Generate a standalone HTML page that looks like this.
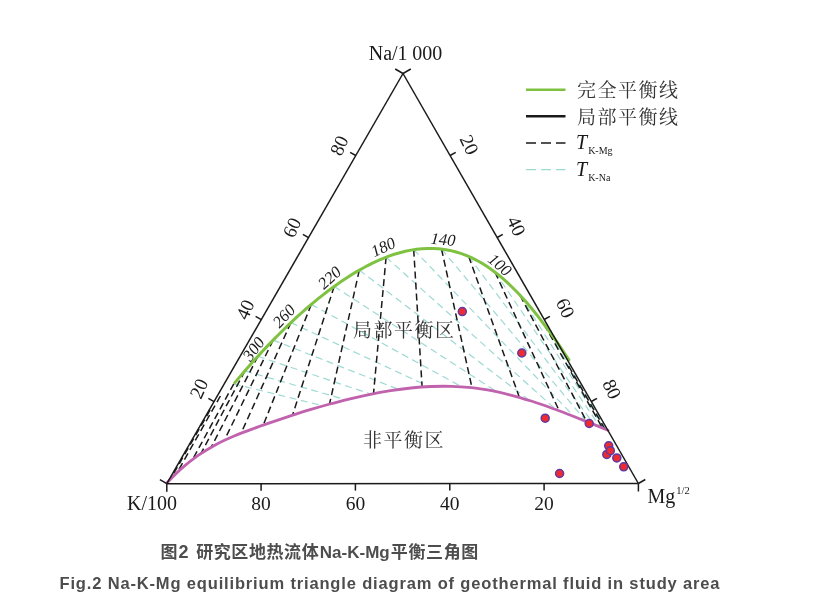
<!DOCTYPE html>
<html lang="zh"><head><meta charset="utf-8"><title>Na-K-Mg</title>
<style>html,body{margin:0;padding:0;background:#fff}svg{display:block;filter:blur(0.35px)}</style></head>
<body>
<svg width="813" height="616" viewBox="0 0 813 616">
<rect width="813" height="616" fill="#fff"/>
<g fill="none" stroke="#9dd9d3" stroke-width="1.2" stroke-dasharray="7 4.5">
<path d="M544.1 324.3 L606.5 429.6"/>
<path d="M520.1 295.4 L603.9 428.6"/>
<path d="M495.0 272.2 L600.1 427.0"/>
<path d="M468.7 256.5 L594.5 424.8"/>
<path d="M441.5 249.0 L586.3 421.5"/>
<path d="M413.7 249.6 L574.1 416.6"/>
<path d="M386.1 257.2 L556.1 409.7"/>
<path d="M359.3 270.1 L530.0 400.7"/>
<path d="M334.2 286.4 L496.8 391.8"/>
<path d="M311.3 304.4 L461.9 386.9"/>
<path d="M290.9 322.6 L429.1 386.6"/>
<path d="M273.1 340.1 L398.9 389.5"/>
<path d="M257.9 356.3 L371.2 394.2"/>
<path d="M244.9 370.9 L346.0 399.8"/>
<path d="M233.8 383.8 L323.3 405.9"/>
</g>
<g fill="none" stroke="#1a1a1a" stroke-width="1.5" stroke-dasharray="7 4">
<path d="M544.1 324.3 L602.4 428.0"/>
<path d="M520.1 295.4 L586.8 421.7"/>
<path d="M495.0 272.2 L559.2 410.8"/>
<path d="M468.7 256.5 L519.4 397.4"/>
<path d="M441.5 249.0 L472.0 387.8"/>
<path d="M413.7 249.6 L422.1 387.0"/>
<path d="M386.1 257.2 L373.5 393.7"/>
<path d="M359.3 270.1 L329.5 404.2"/>
<path d="M334.2 286.4 L292.5 415.2"/>
<path d="M311.3 304.4 L263.3 425.1"/>
<path d="M290.9 322.6 L241.1 433.2"/>
<path d="M273.1 340.1 L224.3 440.4"/>
<path d="M257.9 356.3 L211.2 447.2"/>
<path d="M244.9 370.9 L200.9 453.6"/>
<path d="M233.8 383.8 L192.6 459.5"/>
<path d="M568.6 366.0 L604.6 428.6"/>
<path d="M220.4 396.0 L177.1 472.6"/>
<path d="M210.1 410.0 L170.5 479.0"/>
</g>
<path d="M234.9 382.6L237.0 380.1L239.1 377.6L241.4 374.9L243.7 372.3L246.1 369.5L248.5 366.7L251.1 363.8L253.7 360.8L256.5 357.8L259.3 354.7L262.2 351.6L265.2 348.4L268.3 345.1L271.5 341.8L274.8 338.4L278.2 335.0L281.7 331.5L285.3 328.0L289.0 324.4L292.8 320.8L296.7 317.2L300.8 313.5L304.9 309.9L309.1 306.2L313.4 302.6L317.9 298.9L322.4 295.3L327.0 291.7L331.8 288.2L336.6 284.7L341.5 281.3L346.5 278.0L351.5 274.7L356.7 271.6L361.9 268.7L367.2 265.8L372.5 263.1L377.9 260.6L383.3 258.3L388.8 256.2L394.3 254.3L399.8 252.7L405.4 251.3L411.0 250.1L416.5 249.2L422.1 248.7L427.7 248.4L433.2 248.4L438.8 248.7L444.3 249.4L449.8 250.4L455.2 251.7L460.7 253.4L466.1 255.3L471.4 257.7L476.7 260.3L482.0 263.3L487.2 266.6L492.4 270.2L497.6 274.2L502.7 278.4L507.7 282.9L512.7 287.7L517.7 292.8L522.6 298.0L527.5 303.6L532.3 309.3L537.1 315.2L541.8 321.3L546.4 327.5L551.1 333.8L555.6 340.2L560.1 346.7L564.5 353.3L568.9 359.9" fill="none" stroke="#7fc241" stroke-width="3" stroke-linecap="round"/>
<path d="M166.9 482.8C169.4 480.3 176.9 472.5 182.2 467.9C187.5 463.3 193.0 459.1 198.5 455.2C204.1 451.3 209.9 447.9 215.7 444.7C221.5 441.6 227.5 438.9 233.6 436.3C239.7 433.7 245.8 431.4 252.1 429.1C258.3 426.8 264.7 424.6 271.1 422.4C277.5 420.2 283.9 418.0 290.4 415.9C296.9 413.8 303.5 411.7 310.1 409.7C316.7 407.7 323.4 405.8 330.0 404.0C336.7 402.2 343.4 400.5 350.1 398.8C356.9 397.2 363.6 395.7 370.3 394.4C377.1 393.0 383.8 391.8 390.6 390.7C397.4 389.6 404.1 388.7 410.9 388.0C417.6 387.3 424.4 386.8 431.1 386.5C437.9 386.2 444.6 386.2 451.4 386.3C458.1 386.5 464.8 387.0 471.5 387.7C478.2 388.4 484.9 389.5 491.6 390.7C498.2 392.0 504.9 393.5 511.5 395.3C518.1 397.0 524.7 399.0 531.2 401.0C537.8 403.1 544.3 405.4 550.8 407.7C557.2 410.1 563.7 412.5 570.1 415.0C576.5 417.5 582.8 420.1 589.1 422.6C595.4 425.1 604.8 428.9 607.9 430.2" fill="none" stroke="#c062ad" stroke-width="2.8" stroke-linecap="round"/>
<g stroke="#1a1a1a" stroke-width="1.5" fill="none" stroke-linecap="butt">
<line x1="166.8" y1="483.7" x2="403.0" y2="73.5"/>
<line x1="638.4" y1="483.5" x2="403.0" y2="73.5"/>
<line x1="166.8" y1="483.7" x2="638.4" y2="483.5"/>
<line x1="403.0" y1="73.5" x2="395.2" y2="69.0"/>
<line x1="403.0" y1="73.5" x2="410.8" y2="69.0"/>
<line x1="166.8" y1="483.7" x2="159.9" y2="479.7"/>
<line x1="166.8" y1="483.7" x2="166.8" y2="491.7"/>
<line x1="638.4" y1="483.5" x2="645.3" y2="479.5"/>
<line x1="638.4" y1="483.5" x2="638.4" y2="491.5"/>
<line x1="214.0" y1="401.7" x2="208.4" y2="398.4"/>
<line x1="450.1" y1="155.5" x2="455.7" y2="152.3"/>
<line x1="261.1" y1="483.7" x2="261.1" y2="490.7"/>
<line x1="261.3" y1="319.6" x2="255.6" y2="316.4"/>
<line x1="497.2" y1="237.5" x2="502.8" y2="234.3"/>
<line x1="355.4" y1="483.6" x2="355.4" y2="490.6"/>
<line x1="308.5" y1="237.6" x2="302.9" y2="234.3"/>
<line x1="544.2" y1="319.5" x2="549.9" y2="316.3"/>
<line x1="449.8" y1="483.6" x2="449.8" y2="490.6"/>
<line x1="355.8" y1="155.5" x2="350.1" y2="152.3"/>
<line x1="591.3" y1="401.5" x2="597.0" y2="398.3"/>
<line x1="544.1" y1="483.5" x2="544.1" y2="490.5"/>
</g>
<g font-family="'Liberation Serif', serif" font-size="20" fill="#1a1a1a" text-anchor="middle">
<text font-size="19.3" transform="translate(199.1 388.7) rotate(-66)" y="6.3">20</text>
<text font-size="19.3" transform="translate(469.1 144.8) rotate(65)" y="6.3">20</text>
<text font-size="19.5" x="261.1" y="510">80</text>
<text font-size="19.3" transform="translate(245.3 309.6) rotate(-66)" y="6.3">40</text>
<text font-size="19.3" transform="translate(516.2 226.0) rotate(65)" y="6.3">40</text>
<text font-size="19.5" x="355.4" y="510">60</text>
<text font-size="19.3" transform="translate(292.1 227.6) rotate(-66)" y="6.3">60</text>
<text font-size="19.3" transform="translate(565.2 308.0) rotate(65)" y="6.3">60</text>
<text font-size="19.5" x="449.8" y="510">40</text>
<text font-size="19.3" transform="translate(339.3 145.6) rotate(-66)" y="6.3">80</text>
<text font-size="19.3" transform="translate(611.8 389.2) rotate(65)" y="6.3">80</text>
<text font-size="19.5" x="544.1" y="510">20</text>
<text x="405.5" y="60" textLength="73.5">Na/1 000</text>
<text x="152" y="510">K/100</text>
<text x="647.5" y="502.5" text-anchor="start">Mg<tspan font-size="10.5" dy="-9" dx="1">1/2</tspan></text>
</g>
<g font-family="'Liberation Serif', serif" font-style="italic" font-size="16.5" fill="#1a1a1a" text-anchor="middle">
<text transform="translate(253.6 349.0) rotate(-53.0)" y="5.5">300</text>
<text transform="translate(283.8 316.0) rotate(-47.0)" y="5.5">260</text>
<text transform="translate(329.6 277.6) rotate(-42.0)" y="5.5">220</text>
<text transform="translate(383.2 247.1) rotate(-25.0)" y="5.5">180</text>
<text transform="translate(443.0 239.4) rotate(5.0)" y="5.5">140</text>
<text transform="translate(499.9 264.8) rotate(40.0)" y="5.5">100</text>
</g>
<g fill="#ee2a32" stroke="#5f3aa2" stroke-width="1.5">
<circle cx="462.3" cy="311.6" r="4.0"/>
<circle cx="521.8" cy="353.0" r="4.0"/>
<circle cx="545.2" cy="418.2" r="4.0"/>
<circle cx="589.2" cy="423.5" r="4.0"/>
<circle cx="608.7" cy="445.8" r="4.0"/>
<circle cx="606.8" cy="454.4" r="4.0"/>
<circle cx="610.3" cy="450.7" r="4.0"/>
<circle cx="616.8" cy="457.9" r="4.0"/>
<circle cx="623.7" cy="466.8" r="4.0"/>
<circle cx="559.6" cy="473.5" r="4.0"/>
</g>
<g font-family="'Liberation Serif', 'Noto Serif CJK SC', serif" font-size="19" fill="#333" letter-spacing="1.5">
<text x="353" y="337">局部平衡区</text>
<text x="363" y="447">非平衡区</text>
<text x="577" y="97">完全平衡线</text>
<text x="577" y="124">局部平衡线</text>
</g>
<line x1="526" y1="89.7" x2="565.5" y2="89.7" stroke="#7fc241" stroke-width="2.6"/>
<line x1="526" y1="116.2" x2="565.5" y2="116.2" stroke="#1a1a1a" stroke-width="2.6"/>
<line x1="526" y1="143" x2="565.5" y2="143" stroke="#1a1a1a" stroke-width="1.3" stroke-dasharray="10 5"/>
<line x1="526" y1="169.6" x2="565.5" y2="169.6" stroke="#9dd9d3" stroke-width="1.3" stroke-dasharray="10 5"/>
<g font-family="'Liberation Serif', serif" font-size="20" fill="#1a1a1a">
<text x="576" y="149"><tspan font-style="italic">T</tspan><tspan font-size="10" dy="4.5" dx="1">K-Mg</tspan></text>
<text x="576" y="176"><tspan font-style="italic">T</tspan><tspan font-size="10" dy="4.5" dx="1">K-Na</tspan></text>
</g>
<g font-family="'Liberation Sans', 'Noto Sans CJK SC', sans-serif" font-weight="bold" fill="#4d4d4d">
<text y="557.5" font-size="17"><tspan x="160.5">图</tspan><tspan x="178.5" font-size="18">2</tspan><tspan x="196.2" textLength="122.5">研究区地热流体</tspan><tspan x="319.8">Na-K-Mg</tspan><tspan x="390.8" textLength="87.5">平衡三角图</tspan></text>
<text x="59.5" y="588.6" font-size="16.5" textLength="660" lengthAdjust="spacing">Fig.2 Na-K-Mg equilibrium triangle diagram of geothermal fluid in study area</text>
</g>
</svg>
</body></html>
